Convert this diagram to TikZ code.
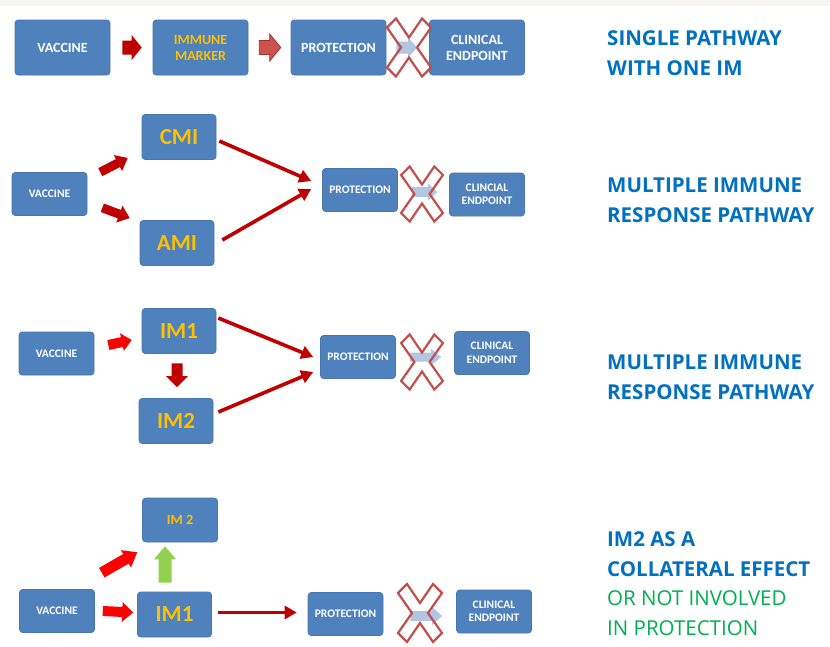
\documentclass[tikz,border=0pt]{standalone}
\usepackage{fontspec}
\setmainfont{Carlito}
\newfontfamily\titlefont{Open Sans}
\usetikzlibrary{arrows.meta,calc}
\definecolor{boxblue}{RGB}{79,129,189}
\definecolor{boxedge}{RGB}{72,118,174}
\definecolor{imyellow}{RGB}{255,192,0}
\definecolor{darkred}{RGB}{192,0,0}
\definecolor{brightred}{RGB}{255,0,0}
\definecolor{arrowgreen}{RGB}{146,208,80}
\definecolor{titleblue}{RGB}{0,112,192}
\definecolor{titlegreen}{RGB}{0,176,80}
\definecolor{xred}{RGB}{192,80,77}
\definecolor{paleblue}{RGB}{178,197,225}
\definecolor{softred}{RGB}{204,82,78}
\definecolor{softredline}{RGB}{165,45,42}
\definecolor{topgrey}{RGB}{247,246,242}
% #1 style, #2 start, #3 end, #4 half shaft, #5 half head, #6 head length
\newcommand{\blockarrow}[6][]{%
  \path[#1] ($#2!#4!90:#3$) -- ($($#3!#6!#2$)!#4!-90:#2$) -- ($($#3!#6!#2$)!#5!-90:#2$)
    -- #3 -- ($($#3!#6!#2$)!#5!90:#2$) -- ($($#3!#6!#2$)!#4!90:#2$) -- ($#2!#4!-90:#3$) -- cycle;}
\begin{document}
\begin{tikzpicture}[x=1pt,y=-1pt,
  box/.style={draw=boxedge, fill=boxblue, rounded corners=3pt, line width=0.6pt,
    text=white, align=center, inner sep=0pt},
  bigbox/.style={box, minimum width=95pt, minimum height=55pt,
    font=\fontsize{14}{16}\selectfont\bfseries},
  smallbox/.style={box, minimum width=75pt, minimum height=43pt,
    font=\fontsize{11.5}{13.5}\selectfont\bfseries},
  midbox/.style={box, minimum width=74pt, minimum height=45pt, text=imyellow,
    font=\fontsize{23}{26}\selectfont\bfseries},
  thinarrow/.style={draw=darkred, line width=3.6pt, -{Triangle[width=13pt,length=12pt]}},
  title/.style={anchor=base west, inner sep=0pt, text=titleblue,
    font=\titlefont\fontsize{20.5}{24}\selectfont\bfseries},
  subtitle/.style={title, text=titlegreen, font=\titlefont\fontsize{20.5}{24}\selectfont},
  xmark/.pic={\draw[xred, line width=2.2pt, line join=miter]
    (-22,-20) -- (-13,-29) -- (0,-10) -- (13,-29) -- (22,-20) -- (8,0) -- (22,20)
    -- (13,29) -- (0,10) -- (-13,29) -- (-22,20) -- (-8,0) -- cycle;}
]
\useasboundingbox (0,0) rectangle (830,646);
\fill[white] (0,0) rectangle (830,646);
\fill[topgrey] (0,0) rectangle (830,6);

% ---------- Row 1
\node[bigbox] (v1) at (62.5,47.5) {VACCINE};
\node[bigbox, text=imyellow] (m1) at (200.5,47.5) {IMMUNE\\MARKER};
\node[bigbox] (p1) at (338.5,47.5) {PROTECTION};
\node[bigbox] (c1) at (477,47.5) {CLINICAL\\ENDPOINT};
\coordinate (a1s) at ($(v1.east)+(12,0)$);
\coordinate (a1e) at ($(m1.west)+(-11,0)$);
\blockarrow[fill=darkred]{(a1s)}{(a1e)}{7pt}{12.5pt}{10pt}
\coordinate (a2s) at ($(m1.east)+(11,0)$);
\coordinate (a2e) at ($(p1.west)+(-10,0)$);
\blockarrow[fill=softred, draw=softredline, line width=0.8pt]{(a2s)}{(a2e)}{7pt}{13.5pt}{11pt}
\coordinate (b1s) at ($(p1.east)+(10,0)$);
\coordinate (b1e) at ($(c1.west)+(-12,0)$);
\blockarrow[fill=paleblue]{(b1s)}{(b1e)}{6pt}{10pt}{9pt}
\pic at (409,47.5) {xmark};
\node[title] (t1a) at (607,45) {SINGLE PATHWAY};
\node[title] (t1b) at (607,75) {WITH ONE IM};

% ---------- Row 2
\node[smallbox] (v2) at (49.5,194) {VACCINE};
\node[midbox] (cmi) at (179,137) {CMI};
\node[midbox] (ami) at (177,243) {AMI};
\node[smallbox] (p2) at (360,190) {PROTECTION};
\node[smallbox] (c2) at (487,194.5) {CLINCIAL\\ENDPOINT};
\coordinate (a3s) at ($(v2.north east)+(13,0)$);
\coordinate (a3e) at ($(cmi.west)+(-14,21)$);
\blockarrow[fill=darkred]{(a3s)}{(a3e)}{4.5pt}{9pt}{11pt}
\coordinate (a4s) at ($(v2.south east)+(15,-8)$);
\coordinate (a4e) at ($(ami.west)+(-10,-25)$);
\blockarrow[fill=darkred]{(a4s)}{(a4e)}{4.5pt}{9pt}{11pt}
\draw[thinarrow] ($(cmi.east)+(3,4)$) -- ($(p2.west)+(-11,-9)$);
\draw[thinarrow] ($(ami.east)+(8,-3)$) -- ($(p2.west)+(-11,-1)$);
\coordinate (b2s) at ($(p2.east)+(14,2)$);
\coordinate (b2e) at ($(b2s -| c2.west)+(-12,0)$);
\blockarrow[fill=paleblue]{(b2s)}{(b2e)}{5pt}{8.5pt}{9pt}
\pic[scale=0.95] at (422,194) {xmark};
\node[title] (t2a) at (607,192) {MULTIPLE IMMUNE};
\node[title] (t2b) at (607,222) {RESPONSE PATHWAY};

% ---------- Row 3
\node[smallbox] (v3) at (56.5,353.5) {VACCINE};
\node[midbox] (i31) at (179,331) {IM1};
\node[midbox] (i32) at (176,421) {IM2};
\node[smallbox] (p3) at (358,357) {PROTECTION};
\node[smallbox] (c3) at (492,353) {CLINICAL\\ENDPOINT};
\coordinate (a5s) at ($(v3.east)+(14,-8.5)$);
\coordinate (a5e) at ($(i31.west)+(-10,9)$);
\blockarrow[fill=brightred]{(a5s)}{(a5e)}{5pt}{9pt}{10pt}
\coordinate (a6s) at ($(i31.south)+(-2,9.5)$);
\coordinate (a6e) at ($(i32.north)+(1,-11)$);
\blockarrow[fill=darkred]{(a6s)}{(a6e)}{5.5pt}{11pt}{11pt}
\draw[thinarrow] ($(i31.east)+(2,-13)$) -- ($(p3.west)+(-7,0)$);
\draw[thinarrow] ($(i32.east)+(5,-9)$) -- ($(p3.west)+(-7,15)$);
\coordinate (b3s) at ($(p3.east)+(14,0)$);
\coordinate (b3e) at ($(b3s -| c3.west)+(-13,0)$);
\blockarrow[fill=paleblue]{(b3s)}{(b3e)}{4.5pt}{8pt}{10pt}
\pic[scale=0.95] at (422,362) {xmark};
\node[title] (t3a) at (607,369) {MULTIPLE IMMUNE};
\node[title] (t3b) at (607,399) {RESPONSE PATHWAY};

% ---------- Row 4
\node[box, minimum width=75pt, minimum height=44pt, text=imyellow,
  font=\fontsize{14}{16}\selectfont\bfseries] (i42) at (180,520) {IM 2};
\node[smallbox] (v4) at (57,611) {VACCINE};
\node[midbox] (i41) at (174.5,614.5) {IM1};
\node[smallbox] (p4) at (345.5,614) {PROTECTION};
\node[smallbox] (c4) at (494,611.5) {CLINICAL\\ENDPOINT};
\coordinate (a7s) at ($(v4.north east)+(7,-16.5)$);
\coordinate (a7e) at ($(i42.south west)+(-5,10)$);
\blockarrow[fill=brightred]{(a7s)}{(a7e)}{5.5pt}{10pt}{13pt}
\coordinate (a8s) at ($(i41.north)+(-9.5,-9)$);
\coordinate (a8e) at ($(i42.south)+(-15,4)$);
\blockarrow[fill=arrowgreen]{(a8s)}{(a8e)}{6.5pt}{11pt}{13pt}
\coordinate (a9s) at ($(v4.east)+(8,0)$);
\coordinate (a9e) at ($(i41.west)+(-4,-2)$);
\blockarrow[fill=brightred]{(a9s)}{(a9e)}{5pt}{10pt}{11pt}
\coordinate (t4s) at ($(i41.east)+(6,-2)$);
\draw[thinarrow, line width=3.2pt] (t4s) -- ($(t4s -| p4.west)+(-11,0)$);
\coordinate (b4s) at ($(p4.east)+(27,2)$);
\coordinate (b4e) at ($(b4s -| c4.west)+(-14,0)$);
\blockarrow[fill=paleblue]{(b4s)}{(b4e)}{5pt}{9pt}{10pt}
\pic at (420,613) {xmark};
\node[title] (t4a) at (607,546) {IM2 AS A};
\node[title] (t4b) at (607,576) {COLLATERAL EFFECT};
\node[subtitle] (t4c) at (607,605.5) {OR NOT INVOLVED};
\node[subtitle] (t4d) at (607,635) {IN PROTECTION};
\end{tikzpicture}
\end{document}
